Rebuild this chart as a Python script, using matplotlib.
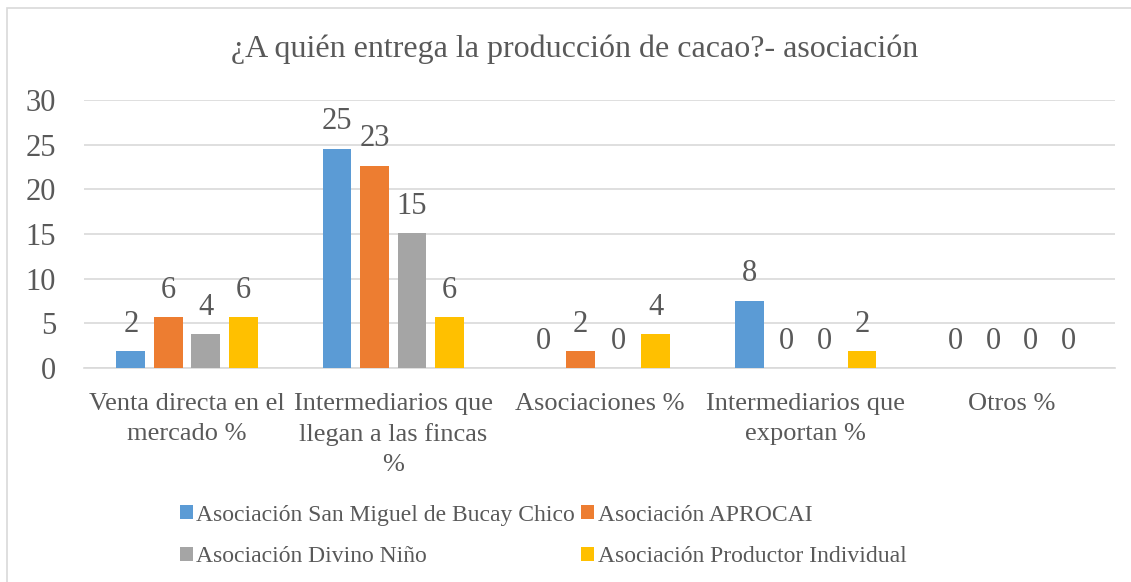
import matplotlib.pyplot as plt
import matplotlib.patches as mpatches
import numpy as np

plt.rcParams['font.family'] = ['Liberation Serif', 'DejaVu Serif']

categories = ['Venta directa en el\nmercado %', 'Intermediarios que\nllegan a las fincas\n%',
              'Asociaciones %', 'Intermediarios que\nexportan %', 'Otros %']
series_names = ['Asociación San Miguel de Bucay Chico', 'Asociación APROCAI',
                'Asociación Divino Niño', 'Asociación Productor Individual']
san_miguel = [1.89, 24.53, 0.0, 7.55, 0.0]
aprocai = [5.66, 22.64, 1.89, 0.0, 0.0]
divino_nino = [3.77, 15.09, 0.0, 0.0, 0.0]
productor = [5.66, 5.66, 3.77, 1.89, 0.0]
colors = ['#5B9BD5', '#ED7D31', '#A5A5A5', '#FFC000']
txt = '#595959'

f1 = plt.figure(figsize=(11.31, 5.82), dpi=100, facecolor='w')
ax = f1.add_axes([84/1131, 1-368/582, (1115-84)/1131, 268/582])

x = np.arange(len(categories))
width = 0.14
pitch = 0.182
handles = []
for i, (vals, name) in enumerate(zip([san_miguel, aprocai, divino_nino, productor], series_names)):
    pos = x + (i - 1.5)*pitch
    bars = ax.bar(pos, vals, width, color=colors[i], label=name, zorder=3)
    handles.append(bars)
    for px, v in zip(pos, vals):
        ax.annotate('%.0f' % v, (px, v), xytext=(0, 14), textcoords='offset points',
                    ha='center', va='baseline', fontsize=22, color=txt)

ax.set_xlim(-0.5, len(categories)-0.5)
ax.set_ylim(0, 30)
ax.set_yticks(range(0, 31, 5))
ax.yaxis.grid(True, color='#D9D9D9', lw=1.2, zorder=0)
ax.set_xticks(x)
ax.set_xticklabels(categories, fontsize=19, color=txt, linespacing=1.45)
ax.tick_params(axis='x', length=0, pad=18)
ax.tick_params(axis='y', length=0, pad=20, labelsize=22, labelcolor=txt)
for s in ['top', 'right', 'left']:
    ax.spines[s].set_visible(False)
ax.spines['bottom'].set_color('#D9D9D9')
ax.spines['bottom'].set_linewidth(1.2)

f1.text(575/1131, 1-49/582, '¿A quién entrega la producción de cacao?- asociación',
        ha='center', va='center', fontsize=23, color=txt)

# row-wise order like Excel
order = [0, 2, 1, 3]
leg = f1.legend([handles[k] for k in order], [series_names[k] for k in order],
                loc='center left', bbox_to_anchor=(168/1131, 1-536/582), ncol=2, frameon=False,
                fontsize=17, handlelength=0.55, handleheight=0.55, handletextpad=0.15,
                columnspacing=0.25, labelspacing=0.88, borderpad=0)
for t in leg.get_texts():
    t.set_color(txt)

border = mpatches.Rectangle((7/1131, -0.1), 1.2, (582-8)/582 + 0.1, fill=False,
                            edgecolor='#D9D9D9', lw=1.2, transform=f1.transFigure)
f1.add_artist(border)

plt.savefig('out.png', dpi=100)
